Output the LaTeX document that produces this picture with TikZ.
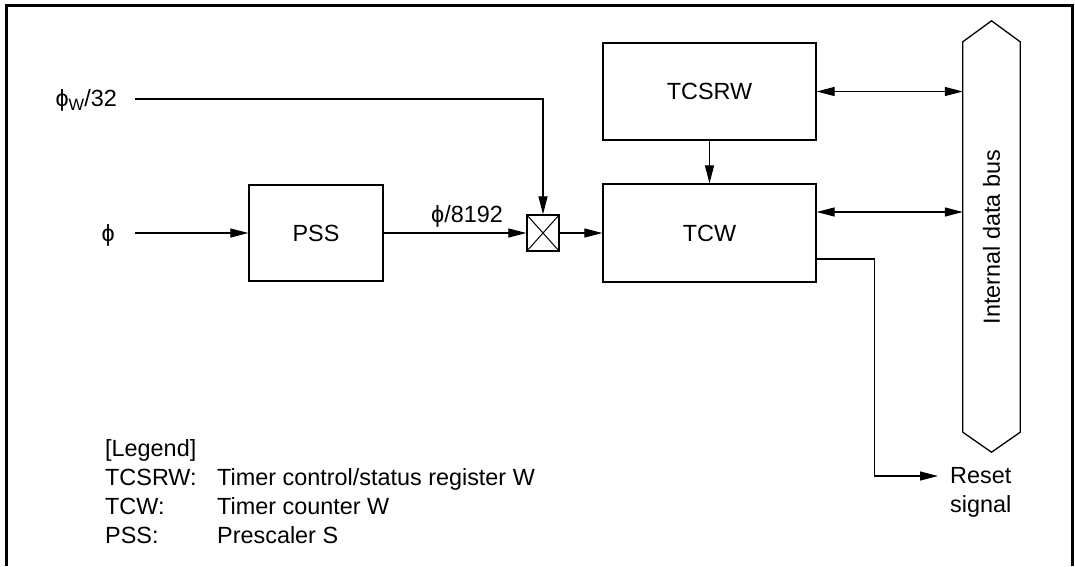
\documentclass[tikz,border=0pt]{standalone}
\usepackage{fontspec}
\setmainfont{Liberation Sans}
\usetikzlibrary{arrows.meta}
\newcommand{\subW}{{\fontsize{16.5}{16.5}\selectfont\raisebox{-4pt}{W}}}
\begin{document}
\begin{tikzpicture}[x=1pt,y=-1pt,
  every node/.style={font=\fontsize{23.4}{29}\selectfont},
  blk/.style={draw, line width=1.3pt, inner sep=0pt},
  txt/.style={inner sep=0pt},
  line/.style={line width=1.2pt},
  arr/.style={line, -{Triangle[length=18pt,width=9pt]}},
  darr/.style={line, {Triangle[length=18pt,width=9pt]}-{Triangle[length=18pt,width=9pt]}}]
\useasboundingbox (0,0) rectangle (1075,566);
% frame
\draw[line width=3pt] (6,566) -- (6,5) -- (1072,5) -- (1072,566);
% blocks
\node[blk, minimum width=134pt, minimum height=96pt] (pss) at (316,233) {PSS};
\node[blk, minimum width=32pt, minimum height=36pt] (mux) at (543,233) {};
\draw[line width=1pt] (mux.north west) -- (mux.south east) (mux.north east) -- (mux.south west);
\node[blk, minimum width=213pt, minimum height=98pt] (tcw) at (709.5,233) {TCW};
\node[blk, minimum width=213pt, minimum height=97pt] (tcsrw) at (709.5,91.5) {TCSRW};
% bus
\node[minimum width=57pt, minimum height=390pt, inner sep=0pt] (bus) at (991.5,237) {};
\draw[line width=1.3pt] (bus.north west) -- ([yshift=21pt]bus.north) -- (bus.north east)
  -- (bus.south east) -- ([yshift=-20pt]bus.south) -- (bus.south west) -- cycle;
\node[txt, rotate=90] (bustxt) at (bus.center) {Internal data bus};
% inputs
\node[anchor=base east, inner ysep=0pt, inner xsep=18pt] (phiw) at (135,106) {ϕ\subW/32};
\node[anchor=base east, inner ysep=0pt, inner xsep=20pt] (phi) at (135,241) {ϕ};
\node[txt, anchor=base] (f8192) at (467,222) {ϕ/8192};
% connectors
\draw[arr] (phiw.east |- 0,99) -| (mux.north);
\draw[arr] (phi.east |- pss.west) -- (pss.west);
\draw[arr] (pss.east) -- (mux.west);
\draw[arr] (mux.east) -- (tcw.west);
\draw[arr] (tcsrw.south) -- (tcw.north);
\draw[darr] (tcsrw.east) -- (tcsrw.east -| bus.west);
\draw[darr] ([yshift=21pt]tcw.east) -- ([yshift=21pt]tcw.east -| bus.west);
% reset
\node[anchor=west, inner xsep=12pt, inner ysep=0pt] (reset) at (938,476) {Reset};
\node[txt, anchor=base west] (signal) at ([xshift=12pt,yshift=-29pt]reset.base west) {signal};
\draw[arr] ([yshift=-26pt]tcw.east) -| ([xshift=58pt]tcw.east |- reset.west) -- (reset.west);
% legend
\node[txt, anchor=base west] (lg) at (105,456) {[Legend]};
\node[txt, anchor=base west] (l1a) at (105,485) {TCSRW:};
\node[txt, anchor=base west] (l2a) at (105,514) {TCW:};
\node[txt, anchor=base west] (l3a) at (105,543) {PSS:};
\node[txt, anchor=base west] (l1b) at (217,485) {Timer control/status register W};
\node[txt, anchor=base west] (l2b) at (217,514) {Timer counter W};
\node[txt, anchor=base west] (l3b) at (217,543) {Prescaler S};
\end{tikzpicture}
\end{document}
